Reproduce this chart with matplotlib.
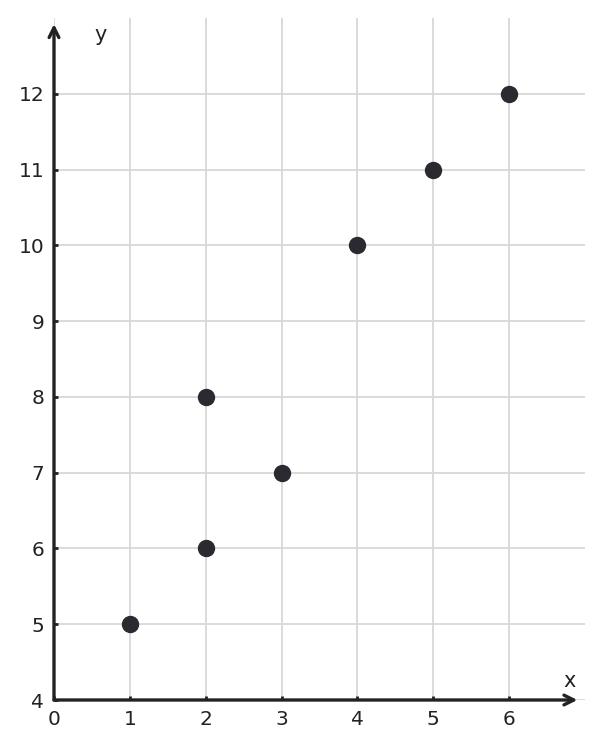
import matplotlib
matplotlib.use("Agg")
import matplotlib.pyplot as plt

plt.rcParams['font.family'] = ['DejaVu Sans']

xs = [1, 2, 2, 3, 4, 5, 6]
ys = [5, 6, 8, 7, 10, 11, 12]
xticks = [0, 1, 2, 3, 4, 5, 6]
yticks = [4, 5, 6, 7, 8, 9, 10, 11, 12]

fig = plt.figure(figsize=(6.03, 7.49), dpi=100)
ax = fig.add_axes([54/603, 1-700/749, (585-54)/603, (700-18)/749])
ax.set_xlim(0, 7)
ax.set_ylim(4, 13)
for s in ax.spines.values():
    s.set_visible(False)
ax.set_xticks(xticks)
ax.set_yticks(yticks)
ax.grid(True, color='#d8d8d8', linewidth=1.3)
ax.set_axisbelow(True)
ax.tick_params(direction='in', length=3, width=2, color='#222222',
               labelsize=14.5, labelcolor='#222222', pad=7)

axc = '#222222'
ax.annotate('', xy=(6.9, 4), xytext=(0, 4),
            arrowprops=dict(arrowstyle='->,head_length=0.7,head_width=0.35', color=axc, lw=2.4,
                            shrinkA=0, shrinkB=0), annotation_clip=False)
ax.annotate('', xy=(0, 12.92), xytext=(0, 4),
            arrowprops=dict(arrowstyle='->,head_length=0.7,head_width=0.35', color=axc, lw=2.4,
                            shrinkA=0, shrinkB=0), annotation_clip=False)

ax.scatter(xs, ys, s=132, color='#2a2a30', zorder=5, clip_on=False)

ax.text(6.8, 4.25, 'x', fontsize=15, color=axc, ha='center', va='center')
ax.text(0.61, 12.77, 'y', fontsize=15, color=axc, ha='center', va='center')

fig.savefig('out.png', dpi=100)
